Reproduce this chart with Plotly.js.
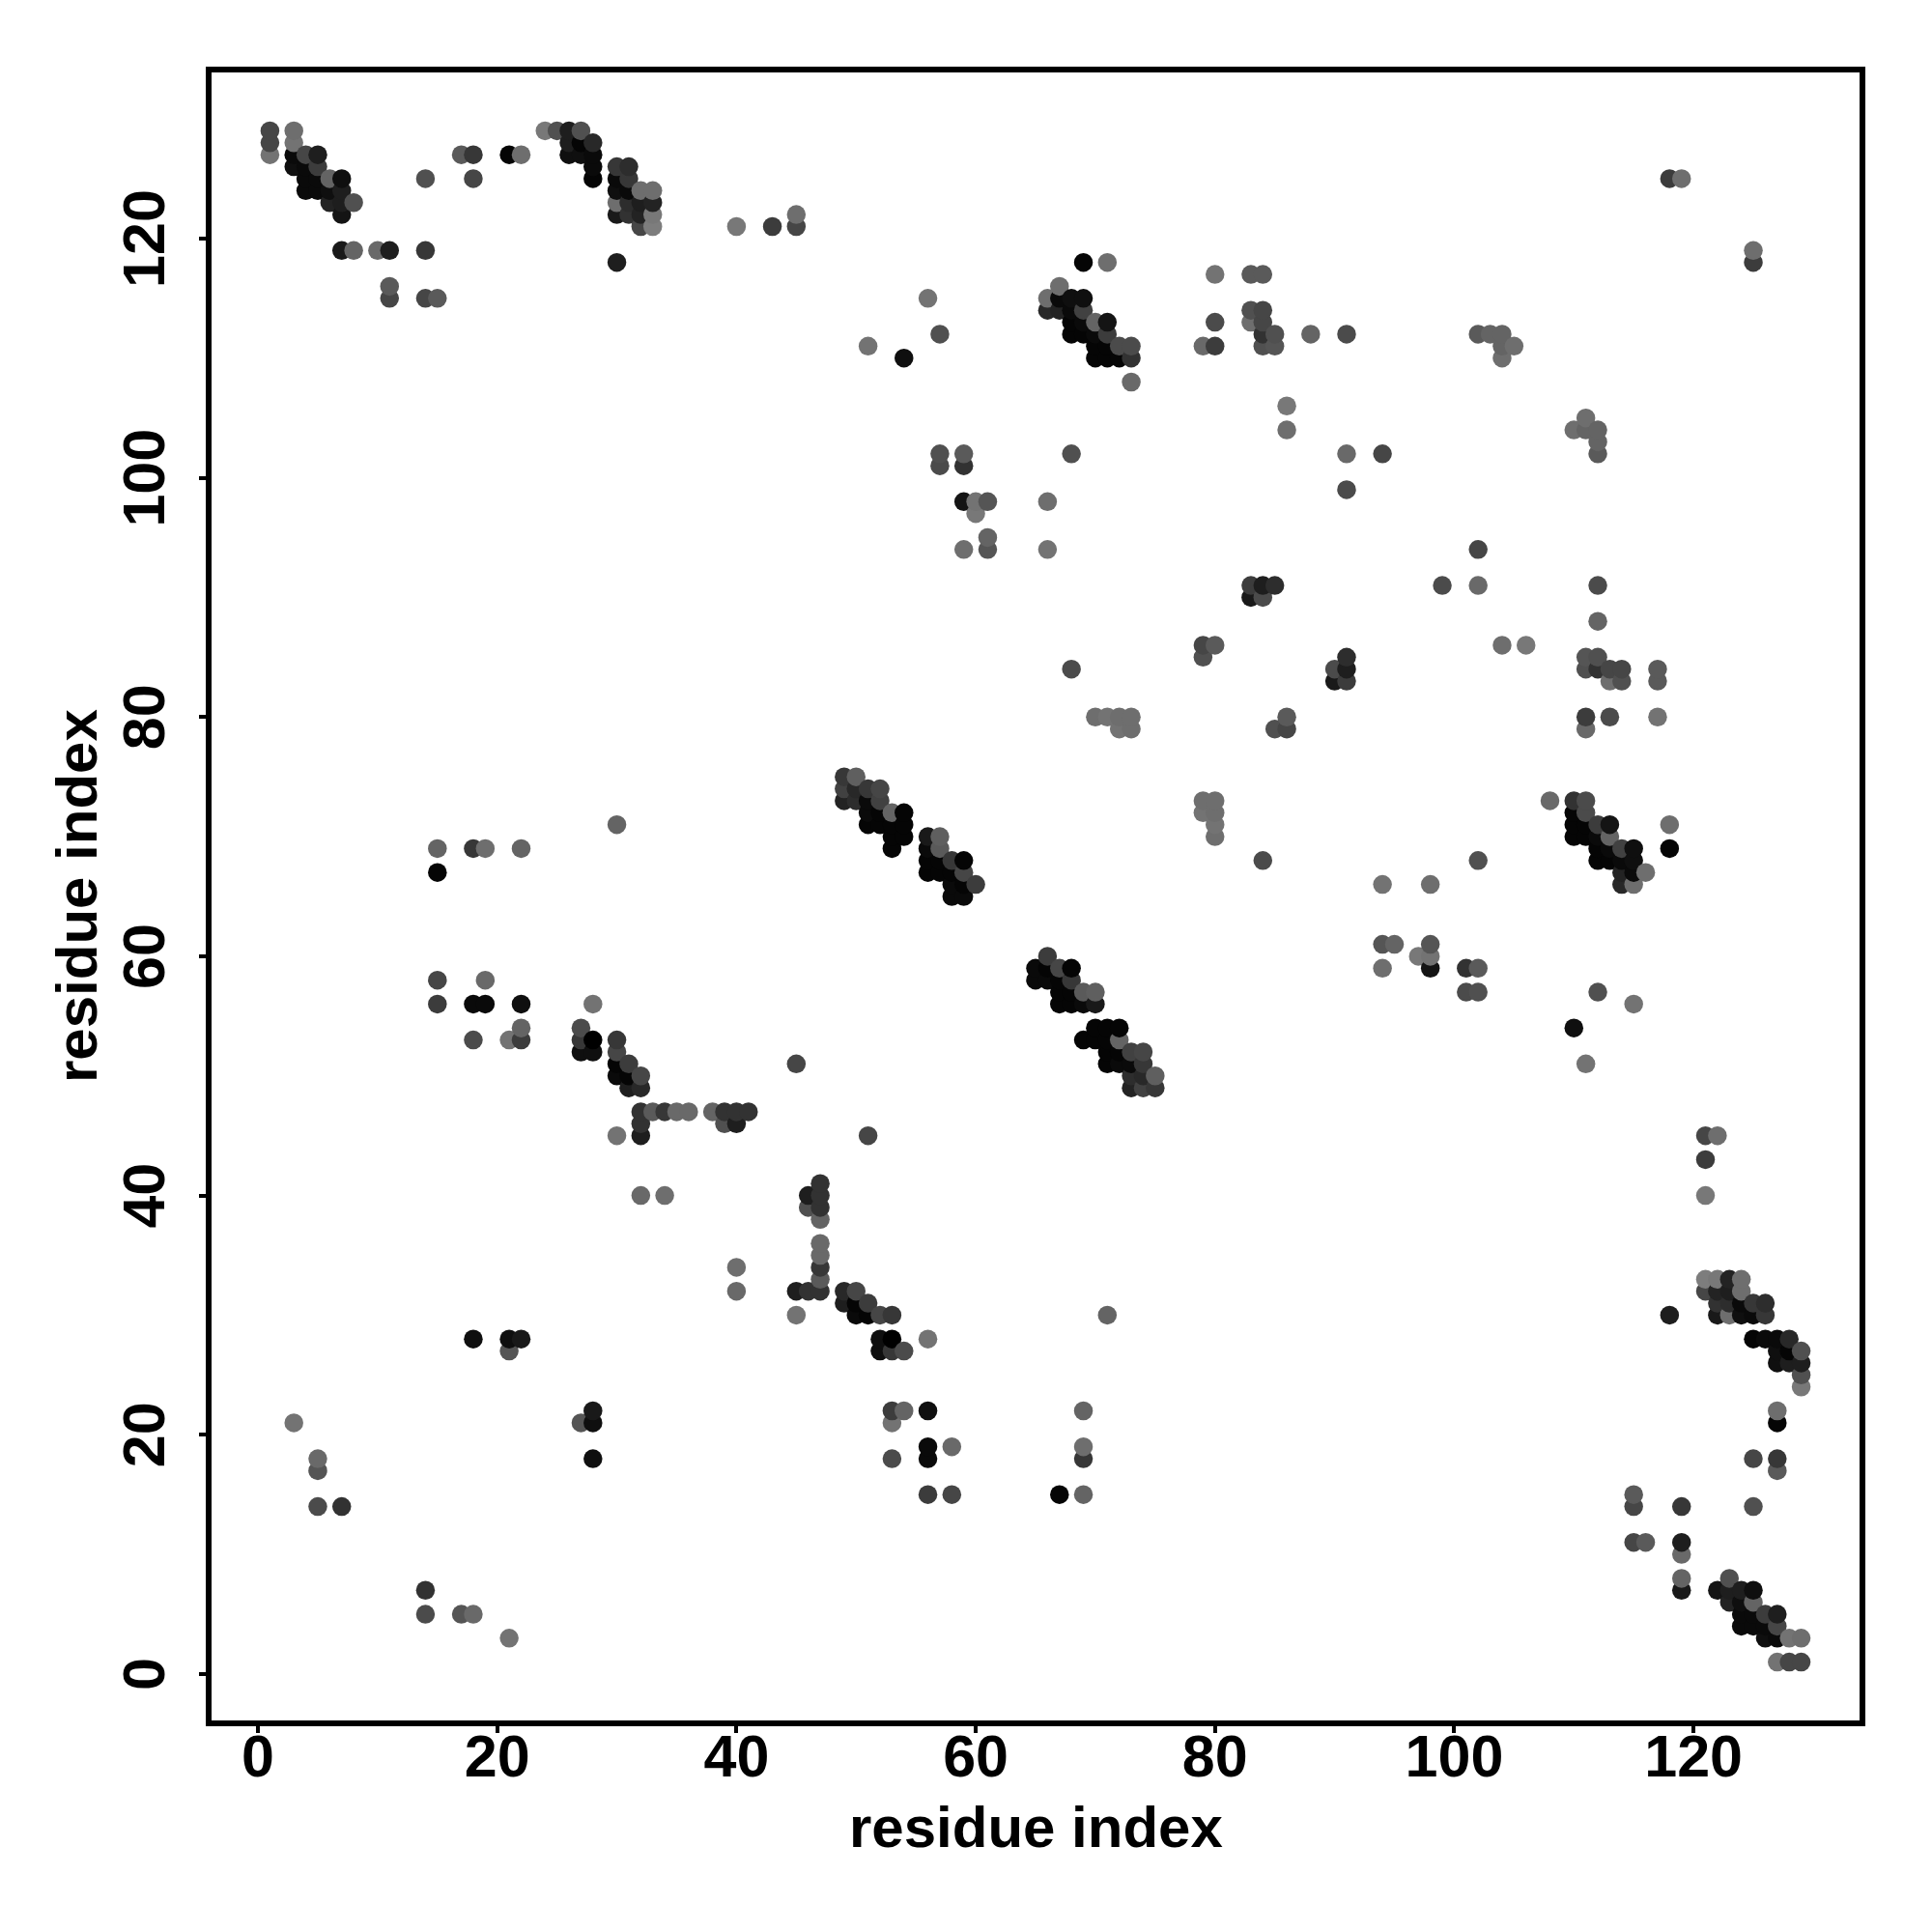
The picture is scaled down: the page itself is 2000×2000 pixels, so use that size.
<!DOCTYPE html>
<html>
<head>
<meta charset="utf-8">
<script src="https://cdn.plot.ly/plotly-3.0.1.min.js"></script>
<style>html,body{margin:0;padding:0;background:#fff}</style>
</head>
<body>
<div id="chart" style="width:2000px;height:2000px"></div>
<script>
// Contact map is symmetric: pairs (i<j), with grey level of each dot.
const residueI = [
1,1,1, 3,3,3,3,3, 4,4,4,4, 5,5,5,5,5,5,5, 6,6,6, 7,7,7,7,7,7, 8,8, 10, 11,11,11, 14,14,14,
15,15,15,15,15, 17, 18,18,18,18,18,18, 19,19,19, 21,21,21,21, 22,22,22,22,22,22, 24, 25, 26,26,26, 27,27,27,27,27,27,
28,28,28,28,28,28,28, 30,30,30,30,30,30,30,30,30,30,30,30, 31,31,31,31,31,31,31,31,
32,32,32,32,32,32,32,32,32,32, 33,33,33,33,33, 34,34, 35, 36, 38, 39,39, 40,40,40, 41, 43, 45,45,45, 49,49,49, 50,50,50,
51,51,51,51,51, 52,52,52,52, 53,53,53,53, 54,54,54,54, 56,56,56,56,56, 57,57,57,57,57,57,57, 58,58,58,58, 59,59,59,59,59,59,59,59,
60,60,60, 61,61,61, 66,66,66,66, 67,67,67, 68,68,68,68,68,68, 69,69,69,69,69, 70,70,70,70,70, 71,71,71,71,71,71,
72,72,72,72, 73,73,73,73,73, 79,79,79, 80,80,80,80, 83,83,83,83,83, 84,84,84,84,84,84,84, 85,85,85, 86,86, 88,
91,91,91, 94, 102, 103, 104,104,104, 105, 118, 119
];
const residueJ = [
127,128,129, 21,126,127,128,129, 124,125,126,127, 14,17,18,124,125,126,127, 123,124,125, 14,119,122,123,124,125, 119,123, 119, 115,116,119, 115,119,125,
56,58,67,69,115, 127, 28,53,56,69,125,127, 56,58,69, 27,28,53,127, 28,53,54,56,69,127, 129, 129, 127,128,129, 52,53,54,127,128,129,
52,53,56,125,126,127,128, 45,50,51,52,53,71,118,122,123,124,125,126, 49,50,51,122,123,124,125,126,
40,45,46,47,49,50,121,122,123,124, 47,121,122,123,124, 40,47, 47, 47, 47, 46,47, 46,47,121, 47, 121, 51,121,122, 73,74,75, 73,74,75,
71,72,73,74,111, 71,72,73,74, 69,70,71,72, 70,71,72,110, 67,68,69,70,115, 67,68,69,70,101,102,112, 65,66,67,68, 65,66,67,68,94,98,101,102,
66,97,98, 94,95,98, 94,98,114,115, 114,115,116, 84,102,112,113,114,115, 112,113,114,115,118, 80,110,111,112,113, 80,110,111,112,113,118,
79,80,110,111, 79,80,108,110,111, 85,86,111, 86,111,113,117, 90,91,113,114,117, 90,91,111,112,113,114,117, 91,111,112, 104,106, 112,
99,102,112, 102, 112, 112, 110,111,112, 111, 125, 125
];
const greyLevel = [
115,70,70, 115,15,10,115,110, 10,10,10,70, 75,85,105,10,10,60,30, 35,15,100, 50,25,20,30,30,15, 100,80, 105, 70,90,30, 70,55,80,
60,70,5,100,90, 90, 15,75,10,55,70,55, 10,105,110, 85,15,115,5, 25,60,100,15,100,110, 120, 80, 15,30,30, 15,55,75,15,5,80,
15,0,115,5,10,10,40, 115,10,5,70,55,100,30,25,110,15,10,55, 30,5,60,50,45,10,55,45,
105,30,50,50,40,70,70,35,30,110, 90,125,120,35,110, 110,55, 105, 105, 100, 80,50, 30,50,120, 50, 60, 70,70,110, 35,65,55, 45,40,95,
5,10,10,55,115, 5,5,65,70, 5,5,5,100, 5,5,5,15, 5,5,10,25,115, 5,5,90,95,75,80,80, 10,10,5,55, 10,5,70,5,110,20,50,90,
60,120,115, 85,100,85, 115,110,40,110, 35,10,110, 75,80,5,5,10,15, 5,10,65,15,5, 110,5,5,10,100, 115,5,5,60,20,110,
115,110,5,75, 110,110,105,50,75, 80,70,105, 90,60,75,115, 25,60,110,80,90, 75,30,80,50,70,70,90, 45,85,80, 110,120, 100,
75,105,75, 70, 90, 100, 110,100,100, 110, 60, 110
];
const tickValues = [0,20,40,60,80,100,120];
const axisTitle = "residue index";

// Mirror each pair across the diagonal, then draw column by column as in the original.
const dots = [];
residueI.forEach((i, k) => {
  dots.push([i, residueJ[k], greyLevel[k]]);
  dots.push([residueJ[k], i, greyLevel[k]]);
});
dots.sort((a, b) => a[0] - b[0] || a[1] - b[1]);

const fontFamily = '"Liberation Sans", Arial, sans-serif';
const tickFont = {family: fontFamily, size: 61, color: '#000', weight: 700};
const titleFont = {family: fontFamily, size: 60, color: '#000', weight: 700};
const axisStyle = {
  range: [-3.88, 133.88], tickmode: 'array', tickvals: tickValues, ticktext: tickValues.map(String),
  ticks: 'outside', ticklen: 7, tickwidth: 4, tickcolor: '#000',
  showgrid: false, zeroline: false, showline: true, linewidth: 6, linecolor: '#000', mirror: true,
  tickfont: tickFont
};
// Rotated y tick labels and both titles are placed as annotations.
const yLabels = tickValues.map(v => ({
  text: String(v), xref: 'paper', x: 0, xshift: -70, yref: 'y', y: v,
  xanchor: 'center', yanchor: 'middle', textangle: -90, showarrow: false, font: tickFont
}));
const yTitle = {
  text: axisTitle, xref: 'paper', x: 0, xshift: -140, yref: 'paper', y: 0.5,
  xanchor: 'center', yanchor: 'middle', textangle: -90, showarrow: false, font: titleFont
};
const xTitle = {
  text: axisTitle, xref: 'paper', x: 0.5, yref: 'paper', y: 0, yshift: -110,
  xanchor: 'center', yanchor: 'middle', showarrow: false, font: titleFont
};
Plotly.newPlot('chart', [{
  type: 'scatter', mode: 'markers',
  x: dots.map(d => d[0]), y: dots.map(d => d[1]),
  marker: {size: 19.5, color: dots.map(d => `rgb(${d[2]},${d[2]},${d[2]})`), line: {width: 0}}
}], {
  width: 2000, height: 2000, showlegend: false,
  paper_bgcolor: '#fff', plot_bgcolor: '#fff',
  margin: {l: 219, r: 75, t: 75, b: 219, pad: 0},
  xaxis: Object.assign({}, axisStyle, {ticklabelstandoff: -28}),
  yaxis: Object.assign({}, axisStyle, {showticklabels: false}),
  annotations: yLabels.concat([yTitle, xTitle])
}, {displayModeBar: false, staticPlot: true});
</script>
</body>
</html>
